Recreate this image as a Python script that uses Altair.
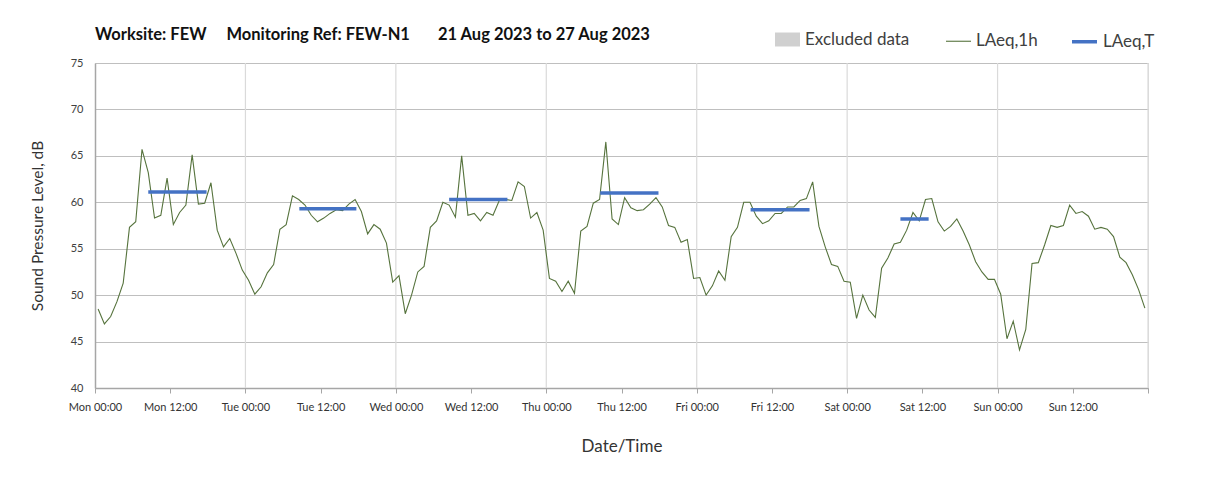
import altair as alt
import pandas as pd

# ---------------- data ----------------
days = ["Mon", "Tue", "Wed", "Thu", "Fri", "Sat", "Sun"]

mon = [48.5, 46.9, 47.7, 49.3, 51.3, 57.3, 57.9, 65.7, 63.2, 58.3, 58.6, 62.6,
       57.6, 58.9, 59.7, 65.1, 59.8, 59.9, 62.1, 57.0, 55.2, 56.1, 54.5, 52.7]
tue = [51.6, 50.1, 50.9, 52.4, 53.3, 57.1, 57.6, 60.7, 60.3, 59.7, 58.6, 57.9,
       58.3, 58.8, 59.2, 59.1, 59.8, 60.3, 59.0, 56.6, 57.6, 57.1, 55.6, 51.4]
wed = [52.1, 48.0, 50.0, 52.5, 53.1, 57.3, 58.0, 60.0, 59.7, 58.4, 65.0, 58.6,
       58.8, 58.0, 58.9, 58.6, 60.2, 60.3, 60.2, 62.2, 61.7, 58.3, 58.9, 57.0]
thu = [51.8, 51.5, 50.4, 51.5, 50.2, 56.9, 57.4, 59.9, 60.3, 66.5, 58.2, 57.6,
       60.5, 59.4, 59.1, 59.2, 59.8, 60.5, 59.5, 57.5, 57.3, 55.7, 56.0, 51.8]
fri = [51.9, 50.0, 51.0, 52.6, 51.6, 56.3, 57.3, 60.0, 60.0, 58.5, 57.7, 58.0,
       58.8, 58.8, 59.5, 59.5, 60.2, 60.4, 62.2, 57.4, 55.2, 53.3, 53.1, 51.5]
sat = [51.4, 47.5, 50.0, 48.4, 47.6, 52.9, 54.0, 55.5, 55.7, 57.0, 58.9, 58.0,
       60.3, 60.4, 57.9, 56.9, 57.4, 58.2, 56.9, 55.4, 53.6, 52.5, 51.7, 51.7]
sun = [50.1, 45.3, 47.2, 44.1, 46.3, 53.4, 53.5, 55.4, 57.5, 57.3, 57.5, 59.7,
       58.8, 59.0, 58.5, 57.1, 57.3, 57.1, 56.3, 54.1, 53.5, 52.2, 50.6, 48.6]

# LAeq,T period values (hours from Mon 00:00)
lt_start = [8.5, 32.6, 56.5, 80.6, 104.6, 128.5]
lt_end = [17.8, 41.7, 65.8, 89.9, 114.0, 133.0]
lt_value = [61.1, 59.3, 60.3, 61.0, 59.2, 58.2]

# Excluded periods (none in this week)
excl_start = []
excl_end = []

tick_hours = list(range(0, 169, 12))
tick_labels = [f"{d} {t}" for d in days for t in ("00:00", "12:00")] + [""]
day_lines = list(range(24, 169, 24))
y_ticks = list(range(40, 76, 5))

NB = "\u00a0"
title_text = ("Worksite: FEW" + NB * 5 + "Monitoring Ref: FEW-N1" + NB * 7 +
              "21 Aug 2023 to 27 Aug 2023")

# ---------------- tables ----------------
hourly = mon + tue + wed + thu + fri + sat + sun
df_line = pd.DataFrame({
    "hour": [i + 0.5 for i in range(len(hourly))],
    "level": hourly,
    "series": "LAeq,1h",
})
df_lt = pd.DataFrame({"hour": lt_start, "end": lt_end, "level": lt_value,
                      "series": "LAeq,T"})
df_days = pd.DataFrame({"hour": day_lines})

FONT = "Lato"
W, H = 1053, 325
series_domain = ["LAeq,1h", "LAeq,T"]
green = "#56733d"
blue = "#4472c4"

x_scale = alt.Scale(domain=[0, 168], nice=False, zero=False)
y_scale = alt.Scale(domain=[40, 75], nice=False, zero=False)

label_expr = "[" + ",".join(f"'{t}'" for t in tick_labels) + "][round(datum.value/12)]"

x_axis = alt.Axis(
    values=tick_hours, labelExpr=label_expr, grid=False, title="Date/Time",
    titleFont=FONT, titleFontSize=17, titleFontWeight="normal", titleColor="#333333",
    titlePadding=26, labelFont=FONT, labelFontSize=11, labelColor="#333333",
    labelPadding=8, tickSize=5, tickColor="#a6a6a6", domainColor="#a6a6a6",
    domainWidth=1.5, labelOverlap=False, labelFlush=False)

y_axis = alt.Axis(
    values=y_ticks, title="Sound Pressure Level, dB", titleFont=FONT,
    titleFontSize=15.5, titleFontWeight="normal", titleColor="#333333",
    titlePadding=25, labelFont=FONT, labelFontSize=11, labelColor="#404040",
    labelPadding=12, ticks=False, grid=True, gridColor="#bfbfbf", gridWidth=1.2,
    domainColor="#a6a6a6", domainWidth=1.5)

stroke_legend = alt.Legend(
    title=None, orient="none", legendX=850, legendY=-36, direction="horizontal",
    symbolType="stroke", symbolSize=625, labelFont=FONT, labelFontSize=17,
    labelColor="#404040", columnPadding=27, labelOffset=4,
)

day_rules = alt.Chart(df_days).mark_rule(color="#dadada", strokeWidth=1.2).encode(
    x=alt.X("hour:Q", scale=x_scale, axis=x_axis),
)

excl = alt.Chart(alt.Data(values=[{"hour": s, "end": e, "excl": "Excluded data"}
                                  for s, e in zip(excl_start, excl_end)])).mark_rect(opacity=1).encode(
    x=alt.X("hour:Q", scale=x_scale, axis=x_axis),
    x2="end:Q",
    y=alt.value(0),
    y2=alt.value(H),
    fill=alt.Fill("excl:N", scale=alt.Scale(domain=["Excluded data"], range=["#d0d0d0"]),
                  legend=alt.Legend(title=None, orient="none", legendX=680, legendY=-36,
                                    symbolType="M-1,-0.56H1V0.56H-1Z", symbolSize=625,
                                    symbolStrokeWidth=0, labelFont=FONT, labelFontSize=17,
                                    labelColor="#404040", labelOffset=5)),
)

line = alt.Chart(df_line).mark_line(interpolate="linear").encode(
    x=alt.X("hour:Q", scale=x_scale, axis=x_axis),
    y=alt.Y("level:Q", scale=y_scale, axis=y_axis),
    stroke=alt.Stroke("series:N", scale=alt.Scale(domain=series_domain, range=[green, blue]),
                      legend=stroke_legend),
    strokeWidth=alt.StrokeWidth("series:N", scale=alt.Scale(domain=series_domain, range=[1.1, 3.5]),
                                legend=stroke_legend),
)

lt = alt.Chart(df_lt).mark_rule(strokeCap="butt").encode(
    x=alt.X("hour:Q", scale=x_scale, axis=x_axis),
    x2="end:Q",
    y=alt.Y("level:Q", scale=y_scale, axis=y_axis),
    stroke=alt.Stroke("series:N", scale=alt.Scale(domain=series_domain, range=[green, blue]),
                      legend=stroke_legend),
    strokeWidth=alt.StrokeWidth("series:N", scale=alt.Scale(domain=series_domain, range=[1.1, 3.5]),
                                legend=stroke_legend),
)

chart = alt.layer(excl, day_rules, line, lt).properties(
    width=W, height=H,
    title=alt.TitleParams(title_text, anchor="start", frame="group", font=FONT,
                          fontSize=16.5, fontWeight="bold", color="#111111", offset=20, dy=36),
    autosize=alt.AutoSizeParams(type="none"),
    padding={"left": 87, "top": 55, "right": 52, "bottom": 80},
).configure_view(strokeWidth=0).configure(background="white")

chart.save("out.html", embed_options={"renderer": "svg", "actions": False})
